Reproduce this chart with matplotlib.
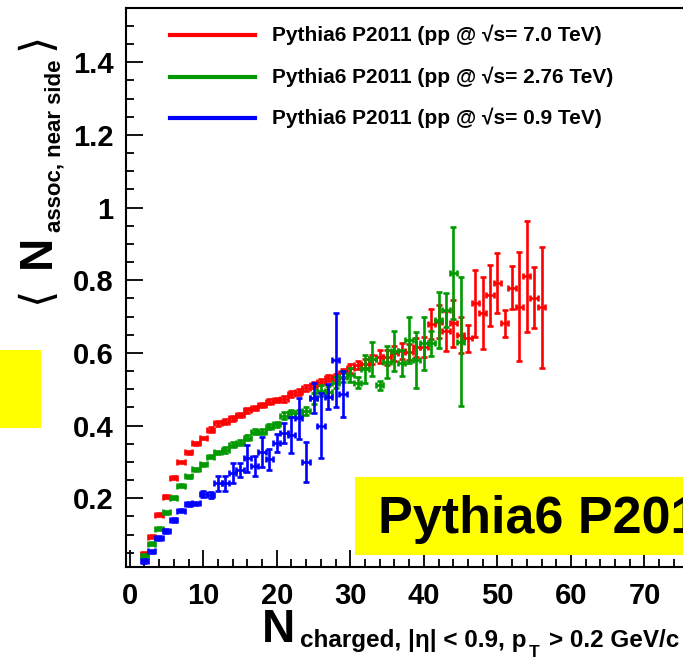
import numpy as np
import matplotlib
matplotlib.use("Agg")
import matplotlib.pyplot as plt
from matplotlib.patches import Rectangle
from matplotlib.lines import Line2D

plt.rcParams['font.family'] = ['Liberation Sans', 'DejaVu Sans']
plt.rcParams['font.weight'] = 'bold'

# --- data ---
red_n = np.arange(2, 57)
red_y = [0.047, 0.094, 0.155, 0.204, 0.256, 0.300, 0.327, 0.351, 0.366, 0.389,
         0.406, 0.411, 0.420, 0.430, 0.442, 0.449, 0.457, 0.466, 0.470, 0.473,
         0.487, 0.493, 0.503, 0.512, 0.521, 0.530, 0.533, 0.544, 0.558, 0.567,
         0.570, 0.582, 0.590, 0.588, 0.599, 0.606, 0.603, 0.615, 0.617, 0.680,
         0.686, 0.660, 0.681, 0.649, 0.640, 0.736, 0.711, 0.759, 0.793, 0.681,
         0.780, 0.727, 0.811, 0.752, 0.725]
red_err = [0.004] * 9 + [0.006] * 10 + [0.008] * 8 + [0.012] * 5 + \
          [0.018, 0.02, 0.02, 0.022, 0.022, 0.025, 0.028] + \
          [0.041, 0.046, 0.054, 0.064, 0.050, 0.038, 0.092, 0.099, 0.084,
           0.083, 0.037, 0.058, 0.150, 0.153, 0.084, 0.167]

green_n = np.arange(2, 46)
green_y = [0.042, 0.075, 0.116, 0.162, 0.202, 0.234, 0.260, 0.280, 0.294, 0.314,
           0.327, 0.333, 0.347, 0.353, 0.367, 0.383, 0.383, 0.397, 0.404, 0.427,
           0.434, 0.434, 0.440, 0.475, 0.496, 0.493, 0.518, 0.535, 0.539, 0.518,
           0.555, 0.583, 0.511, 0.576, 0.605, 0.572, 0.635, 0.580, 0.626, 0.626,
           0.690, 0.718, 0.820, 0.631]
green_err = [0.004] * 11 + [0.007] * 8 + [0.010] * 4 + [0.015] * 5 + \
            [0.020, 0.015, 0.039, 0.046, 0.012, 0.044, 0.055, 0.035, 0.064,
             0.077, 0.073, 0.034, 0.077, 0.046, 0.126, 0.178]

blue_n = np.arange(2, 30)
blue_y = [0.028, 0.054, 0.090, 0.110, 0.140, 0.166, 0.184, 0.186, 0.212, 0.209,
          0.241, 0.241, 0.269, 0.278, 0.310, 0.289, 0.328, 0.307, 0.353, 0.379,
          0.374, 0.420, 0.299, 0.477, 0.400, 0.480, 0.580, 0.487]
blue_err = [0.005] * 8 + [0.008, 0.008] + \
           [0.020, 0.020, 0.028, 0.020, 0.037, 0.028, 0.041, 0.030, 0.025,
            0.028, 0.050, 0.057, 0.055, 0.041, 0.089, 0.034, 0.129, 0.064]

labels = ["Pythia6 P2011 (pp @ \u221as= 7.0 TeV)",
          "Pythia6 P2011 (pp @ \u221as= 2.76 TeV)",
          "Pythia6 P2011 (pp @ \u221as= 0.9 TeV)"]
colors = ["#ff0000", "#009900", "#0000ff"]

W, H = 683, 661
fig = plt.figure(figsize=(W / 100, H / 100), dpi=100)

def fx(px):
    return px / W

def fy(py):
    return 1 - py / H

ax = fig.add_axes([fx(126), fy(567), (718 - 126) / W, (567 - 8) / H])
ax.set_xlim(-0.5, 80)
ax.set_ylim(0.011, 1.549)

series = [(red_n, red_y, red_err), (green_n, green_y, green_err), (blue_n, blue_y, blue_err)]
for (n, y, e), c in zip(series, colors):
    ax.errorbar(n, y, yerr=e, xerr=0.5, fmt='none', ecolor=c,
                elinewidth=1.9, capsize=2.3, capthick=1.9)

ax.set_xticks(np.arange(0, 80, 10))
ax.set_xticks(np.arange(0, 80, 2), minor=True)
ax.set_yticks([0.2, 0.4, 0.6, 0.8, 1.0, 1.2, 1.4])
ax.set_yticklabels(["0.2", "0.4", "0.6", "0.8", "1", "1.2", "1.4"])
ax.set_yticks(np.arange(0.05, 1.55, 0.05), minor=True)
ax.tick_params(which='both', direction='in', width=1.3, labelsize=21)
ax.tick_params(which='major', length=12, pad=9)
ax.tick_params(which='minor', length=6)
ax.tick_params(axis='x', pad=11)
for s in ax.spines.values():
    s.set_linewidth(1.5)

# legend drawn by hand, ROOT style
for i, (lab, c) in enumerate(zip(labels, colors)):
    yy = 35 + i * 41.5
    fig.add_artist(Line2D([fx(170), fx(255)], [fy(yy), fy(yy)], color=c, lw=3))
    fig.text(fx(272), fy(yy), lab, fontsize=15, va='center', ha='left')

# axis titles
fig.text(fx(262), fy(642), "N", fontsize=33, va='baseline', ha='left')
fig.text(fx(300), fy(647), "charged, |\u03b7| < 0.9, p", fontsize=17.5,
         va='baseline', ha='left')
fig.text(fx(529), fy(657), "T", fontsize=12.5, va='baseline', ha='left')
fig.text(fx(549), fy(647), "> 0.2 GeV/c", fontsize=17.5, va='baseline', ha='left')

fig.text(fx(48), fy(304), "\u27e8", fontsize=32, rotation=90, rotation_mode='anchor',
         va='baseline', ha='left', family=['DejaVu Sans'], weight='normal')
fig.text(fx(50), fy(268), "N", fontsize=33, rotation=90, rotation_mode='anchor',
         va='baseline', ha='left')
fig.text(fx(61), fy(232), "assoc, near side", fontsize=16, rotation=90,
         rotation_mode='anchor', va='baseline', ha='left')
fig.text(fx(48), fy(50), "\u27e9", fontsize=32, rotation=90, rotation_mode='anchor',
         va='baseline', ha='left', family=['DejaVu Sans'], weight='normal')

# yellow boxes
fig.add_artist(Rectangle((0, fy(428)), fx(41), (428 - 350) / H, color='#ffff00', lw=0))
fig.add_artist(Rectangle((fx(355), fy(555)), fx(683 - 355), (555 - 477) / H,
                         color='#ffff00', lw=0))
fig.text(fx(378), fy(533), "Pythia6 P2011", fontsize=37.5, va='baseline', ha='left')

fig.savefig("out.png", dpi=100)
